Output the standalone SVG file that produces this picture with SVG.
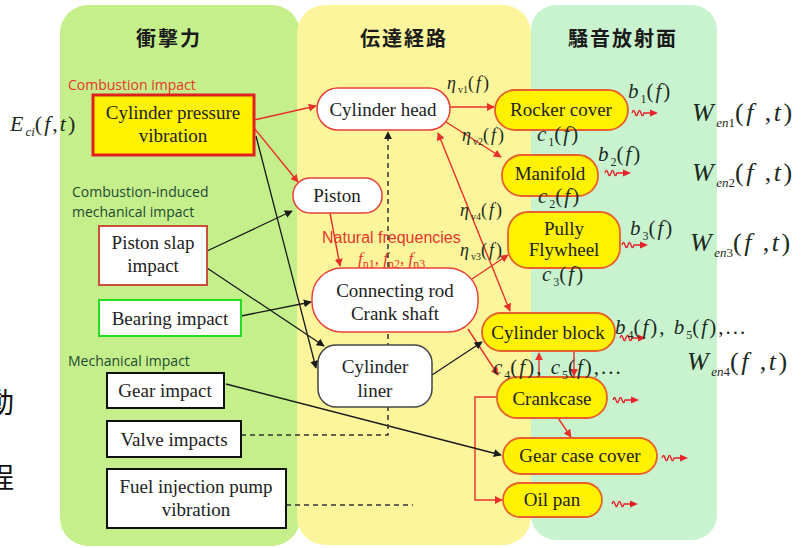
<svg xmlns="http://www.w3.org/2000/svg" xmlns:xlink="http://www.w3.org/1999/xlink" width="808" height="548" viewBox="0 0 808 548">
<style>
.title{font-family:"Noto Sans CJK JP","Noto Sans CJK SC",sans-serif;font-weight:bold;font-size:20px;letter-spacing:2px;fill:#1a1a1a;text-anchor:middle}
.lbl{font-family:"Liberation Serif","Times New Roman",serif;font-size:19px;fill:#222;text-anchor:middle}
.cat{font-family:"Open Sans","Liberation Sans",sans-serif;font-size:14px;fill:#1d4a33}
.red{fill:#e8352a}
.nf{font-family:"Liberation Sans",Arial,sans-serif;font-size:16px;fill:#e8352a}
.m{font-family:"Liberation Serif","Times New Roman",serif;font-style:italic;font-size:21px;letter-spacing:2px;fill:#1c2b22}
.eta{font-size:18px}
.r{font-style:normal}
.s{font-size:12px;font-style:normal;letter-spacing:0}
.si{font-size:13px;letter-spacing:0}
.wb{font-size:26px;letter-spacing:2.5px}
.box{fill:#fff;stroke-width:2}
.mid{fill:#fff;stroke:#e8403a;stroke-width:1.5}
.out{fill:#fff200;stroke:#e8602a;stroke-width:1.8}
.cr{fill:none;stroke:#e8302a;stroke-width:1.4}
.cb{fill:none;stroke:#1a1a1a;stroke-width:1.3}
.cd{fill:none;stroke:#333;stroke-width:1.5;stroke-dasharray:5 4}
.cjk{font-family:"Noto Sans CJK JP","Noto Sans CJK SC",sans-serif;font-size:28px;fill:#111}
</style>
<defs>
<marker id="ar" viewBox="0 0 10 10" refX="9" refY="5" markerWidth="8" markerHeight="8" markerUnits="userSpaceOnUse" orient="auto-start-reverse"><path d="M0,0 L10,5 L0,10 z" fill="#e8302a"/></marker>
<marker id="ab" viewBox="0 0 10 10" refX="9" refY="5" markerWidth="8" markerHeight="8" markerUnits="userSpaceOnUse" orient="auto-start-reverse"><path d="M0,0 L10,5 L0,10 z" fill="#1a1a1a"/></marker>
<g id="sq"><path d="M0,0 q1.5,-5 3,0 t3,0 t3,0 t3,0 L19,0" fill="none" stroke="#e8202a" stroke-width="1.4"/><path d="M18,-3.5 L26,0 L18,3.5 z" fill="#e8202a"/></g>
</defs>

<g id="panels">
<rect x="60" y="5" width="240" height="541" rx="28" fill="#c5ef8a"/>
<rect x="297" y="5" width="234" height="540" rx="28" fill="#fcf59c"/>
<rect x="531" y="5" width="186" height="535" rx="25" fill="#c9f3cf"/>
</g>

<text class="cjk" x="-14" y="413">動</text>
<text class="cjk" x="-14" y="488">程</text>

<text class="title" x="169" y="46">衝撃力</text>
<text class="title" x="404" y="46">伝達経路</text>
<text class="title" x="623" y="46">騒音放射面</text>

<text class="cat red" x="68" y="90">Combustion impact</text>
<text class="cat" x="72" y="197">Combustion-induced</text>
<text class="cat" x="72" y="217">mechanical impact</text>
<text class="cat" x="68" y="366">Mechanical impact</text>

<text class="nf" x="322" y="243">Natural frequencies</text>
<text class="m" x="358" y="264" style="fill:#e8352a;font-size:17px;letter-spacing:0">f<tspan class="s" dy="4">n1</tspan><tspan class="r" dy="-4">, </tspan>f<tspan class="s" dy="4">n2</tspan><tspan class="r" dy="-4">, </tspan>f<tspan class="s" dy="4">n3</tspan></text>

<g id="connectors">
<path class="cr" d="M254,120 L316,106" marker-end="url(#ar)"/>
<path class="cr" d="M254,128 L298,182" marker-end="url(#ar)"/>
<path class="cr" d="M450,107 L494,107" marker-end="url(#ar)"/>
<path class="cr" d="M446,122 L501,157" marker-end="url(#ar)"/>
<path class="cr" d="M330,213 L340,266" marker-end="url(#ar)"/>
<path class="cr" d="M472,279 L508,255" marker-end="url(#ar)"/>
<path class="cr" d="M438,133 L510,311" marker-start="url(#ar)" marker-end="url(#ar)"/>
<path class="cr" d="M468,329 L498,375" marker-end="url(#ar)"/>
<path class="cr" d="M539,377 L539,353" marker-end="url(#ar)"/>
<path class="cr" d="M574,351 L574,376" marker-end="url(#ar)"/>
<path class="cr" d="M558,418 L571,437" marker-end="url(#ar)"/>
<path class="cr" d="M497,397 L475,397 L475,500 L502,500" marker-end="url(#ar)"/>
<path class="cb" d="M207,251 L292,211" marker-end="url(#ab)"/>
<path class="cb" d="M207,268 L324,346" marker-end="url(#ab)"/>
<path class="cb" d="M241,316 L311,302" marker-end="url(#ab)"/>
<path class="cb" d="M256,136 L316,368" marker-end="url(#ab)"/>
<path class="cb" d="M432,375 L482,342" marker-end="url(#ab)"/>
<path class="cb" d="M226,384 L501,455" marker-end="url(#ab)"/>
<path class="cd" d="M241,435 L388,435 L388,132" marker-end="url(#ab)"/>
<path class="cd" d="M286,505 L413,505"/>
<use xlink:href="#sq" x="632" y="113"/>
<use xlink:href="#sq" x="605" y="173"/>
<use xlink:href="#sq" x="622" y="245"/>
<use xlink:href="#sq" x="620" y="338"/>
<use xlink:href="#sq" x="613" y="400"/>
<use xlink:href="#sq" x="662" y="458"/>
<use xlink:href="#sq" x="612" y="504"/>
</g>

<g id="n-cyl-pressure"><rect x="93" y="95" width="161" height="60" fill="#fff200" stroke="#e0201e" stroke-width="3"/><text class="lbl" x="173" y="119">Cylinder pressure</text><text class="lbl" x="173" y="142">vibration</text></g>
<g id="n-piston-slap"><rect class="box" x="99" y="226" width="108" height="59" stroke="#c8503a"/><text class="lbl" x="153" y="249">Piston slap</text><text class="lbl" x="153" y="272">impact</text></g>
<g id="n-bearing"><rect class="box" x="99" y="300" width="142" height="36" stroke="#22dd22" stroke-width="2.5"/><text class="lbl" x="170" y="325">Bearing impact</text></g>
<g id="n-gear"><rect class="box" x="107" y="373" width="117" height="35" stroke="#111"/><text class="lbl" x="165" y="397">Gear impact</text></g>
<g id="n-valve"><rect class="box" x="107" y="421" width="134" height="36" stroke="#111"/><text class="lbl" x="174" y="446">Valve impacts</text></g>
<g id="n-fuel"><rect class="box" x="107" y="469" width="179" height="59" stroke="#111"/><text class="lbl" x="196" y="493">Fuel injection pump</text><text class="lbl" x="196" y="516">vibration</text></g>

<g id="n-cyl-head"><rect class="mid" x="317" y="88" width="133" height="42" rx="21"/><text class="lbl" x="383" y="116">Cylinder head</text></g>
<g id="n-piston"><rect class="mid" x="293" y="178" width="89" height="35" rx="17"/><text class="lbl" x="337" y="202">Piston</text></g>
<g id="n-conrod"><rect class="mid" x="312" y="268" width="166" height="64" rx="30"/><text class="lbl" x="395" y="297">Connecting rod</text><text class="lbl" x="395" y="320">Crank shaft</text></g>
<g id="n-liner"><rect x="318" y="345" width="114" height="62" rx="18" fill="#fff" stroke="#444" stroke-width="1.5"/><text class="lbl" x="375" y="373">Cylinder</text><text class="lbl" x="375" y="397">liner</text></g>

<g id="n-rocker"><rect class="out" x="495" y="90" width="133" height="40" rx="20"/><text class="lbl" x="561" y="116">Rocker cover</text></g>
<g id="n-manifold"><rect class="out" x="502" y="155" width="96" height="41" rx="20"/><text class="lbl" x="550" y="180">Manifold</text></g>
<g id="n-pully"><rect class="out" x="508" y="212" width="112" height="56" rx="20"/><text class="lbl" x="564" y="235">Pully</text><text class="lbl" x="564" y="256">Flywheel</text></g>
<g id="n-block"><rect class="out" x="482" y="313" width="133" height="38" rx="19"/><text class="lbl" x="548" y="339">Cylinder block</text></g>
<g id="n-crankcase"><rect class="out" x="497" y="377" width="110" height="41" rx="20"/><text class="lbl" x="552" y="405">Crankcase</text></g>
<g id="n-gearcase"><rect class="out" x="503" y="438" width="154" height="36" rx="18"/><text class="lbl" x="580" y="462">Gear case cover</text></g>
<g id="n-oilpan"><rect class="out" x="503" y="483" width="99" height="34" rx="17"/><text class="lbl" x="552" y="506">Oil pan</text></g>

<g id="math">
<text class="m" x="10" y="131" style="font-size:22px">E<tspan class="si" dy="5">ci</tspan><tspan class="r" dy="-5">(</tspan>f<tspan class="r">,</tspan>t<tspan class="r">)</tspan></text>
<text class="m eta" x="447" y="89">η<tspan class="s" dy="4" style="font-size:10px">v1</tspan><tspan class="r" dy="-4">(</tspan>f<tspan class="r">)</tspan></text>
<text class="m eta" x="462" y="141">η<tspan class="s" dy="4" style="font-size:10px">v2</tspan><tspan class="r" dy="-4">(</tspan>f<tspan class="r">)</tspan></text>
<text class="m eta" x="460" y="216">η<tspan class="s" dy="4" style="font-size:10px">v4</tspan><tspan class="r" dy="-4">(</tspan>f<tspan class="r">)</tspan></text>
<text class="m eta" x="460" y="256">η<tspan class="s" dy="4" style="font-size:10px">v3</tspan><tspan class="r" dy="-4">(</tspan>f<tspan class="r">)</tspan></text>
<text class="m" x="628" y="98">b<tspan class="s" dy="5">1</tspan><tspan class="r" dy="-5">(</tspan>f<tspan class="r">)</tspan></text>
<text class="m" x="537" y="141">c<tspan class="s" dy="5">1</tspan><tspan class="r" dy="-5">(</tspan>f<tspan class="r">)</tspan></text>
<text class="m" x="598" y="161">b<tspan class="s" dy="5">2</tspan><tspan class="r" dy="-5">(</tspan>f<tspan class="r">)</tspan></text>
<text class="m" x="538" y="203">c<tspan class="s" dy="5">2</tspan><tspan class="r" dy="-5">(</tspan>f<tspan class="r">)</tspan></text>
<text class="m" x="630" y="235">b<tspan class="s" dy="5">3</tspan><tspan class="r" dy="-5">(</tspan>f<tspan class="r">)</tspan></text>
<text class="m" x="542" y="281">c<tspan class="s" dy="5">3</tspan><tspan class="r" dy="-5">(</tspan>f<tspan class="r">)</tspan></text>
<text class="m" x="615" y="334">b<tspan class="s" dy="5">4</tspan><tspan class="r" dy="-5">(</tspan>f<tspan class="r">), </tspan>b<tspan class="s" dy="5">5</tspan><tspan class="r" dy="-5">(</tspan>f<tspan class="r">),...</tspan></text>
<text class="m" x="493" y="374">c<tspan class="s" dy="5">4</tspan><tspan class="r" dy="-5">(</tspan>f<tspan class="r">), </tspan>c<tspan class="s" dy="5">5</tspan><tspan class="r" dy="-5">(</tspan>f<tspan class="r">),...</tspan></text>
<text class="m wb" x="692" y="121">W<tspan class="si" dy="6">en<tspan class="r">1</tspan></tspan><tspan class="r" dy="-6">(</tspan>f<tspan class="r"> ,</tspan>t<tspan class="r">)</tspan></text>
<text class="m wb" x="692" y="181">W<tspan class="si" dy="6">en<tspan class="r">2</tspan></tspan><tspan class="r" dy="-6">(</tspan>f<tspan class="r"> ,</tspan>t<tspan class="r">)</tspan></text>
<text class="m wb" x="690" y="251">W<tspan class="si" dy="6">en<tspan class="r">3</tspan></tspan><tspan class="r" dy="-6">(</tspan>f<tspan class="r"> ,</tspan>t<tspan class="r">)</tspan></text>
<text class="m wb" x="687" y="370">W<tspan class="si" dy="6">en<tspan class="r">4</tspan></tspan><tspan class="r" dy="-6">(</tspan>f<tspan class="r"> ,</tspan>t<tspan class="r">)</tspan></text>
</g>
</svg>
